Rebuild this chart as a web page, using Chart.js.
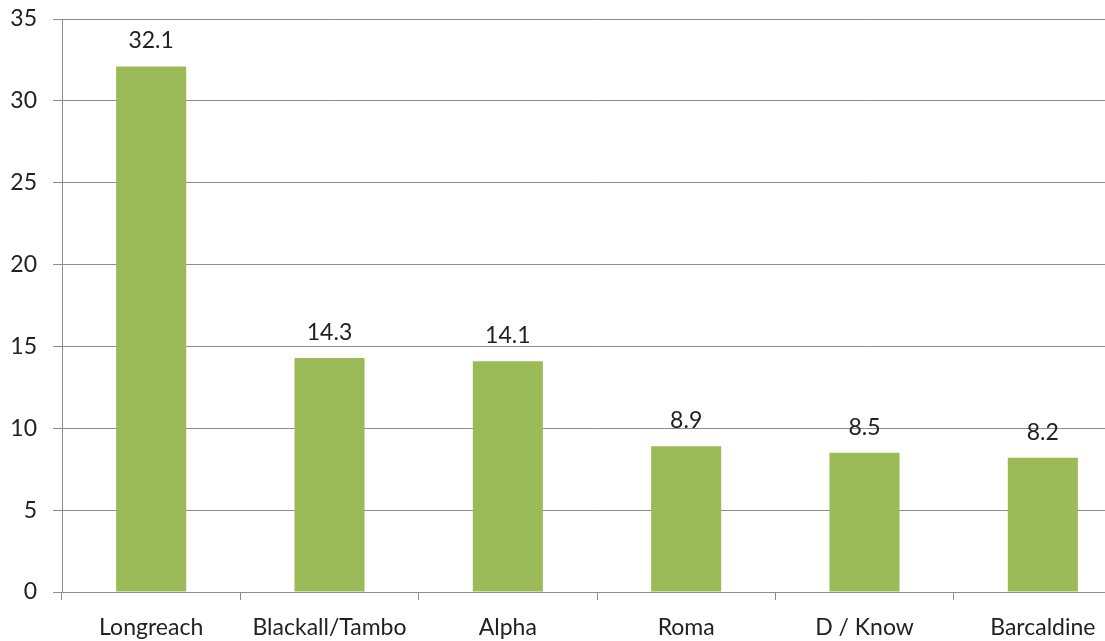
<!DOCTYPE html>
<html>
<head>
<meta charset="utf-8">
<script src="https://cdn.jsdelivr.net/npm/chart.js@4"></script>
<style>
  html, body { margin: 0; padding: 0; background: #fff; overflow: hidden; }
  #wrap { width: 1105px; height: 641px; overflow: hidden; }
</style>
</head>
<body>
<div id="wrap"><canvas id="barChart" width="1132" height="641"></canvas></div>
<script>
var categories = ['Longreach', 'Blackall/Tambo', 'Alpha', 'Roma', 'D / Know', 'Barcaldine'];
var values = [32.1, 14.3, 14.1, 8.9, 8.5, 8.2];
var yTicks = [0, 5, 10, 15, 20, 25, 30, 35];

var fontFamily = 'Lato, "Open Sans", sans-serif';

// value labels above each bar
var barLabels = {
    id: 'barLabels',
    afterDatasetsDraw: function (chart) {
        var ctx = chart.ctx;
        var meta = chart.getDatasetMeta(0);
        ctx.save();
        ctx.font = '23px ' + fontFamily;
        ctx.fillStyle = '#222';
        ctx.textAlign = 'center';
        ctx.textBaseline = 'bottom';
        meta.data.forEach(function (bar, i) {
            ctx.fillText(values[i].toFixed(1), bar.x, bar.y - 14);
        });
        ctx.restore();
    }
};

var ctx = document.getElementById('barChart').getContext('2d');
var myChart = new Chart(ctx, {
    type: 'bar',
    data: {
        labels: categories,
        datasets: [{
            data: values,
            backgroundColor: '#9bbb59',
            borderWidth: 0,
            categoryPercentage: 1.0,
            barPercentage: 0.393
        }]
    },
    options: {
        responsive: false,
        animation: false,
        layout: { padding: { top: 19, right: 0, left: 0, bottom: 0 } },
        plugins: {
            legend: { display: false },
            tooltip: { enabled: false }
        },
        scales: {
            x: {
                grid: {
                    offset: true,
                    drawOnChartArea: false,
                    drawTicks: true,
                    tickLength: 8,
                    color: '#8c8c8c'
                },
                border: { color: '#8c8c8c', width: 1 },
                ticks: {
                    color: '#222',
                    font: { family: fontFamily, size: 23 },
                    padding: 14,
                    maxRotation: 0,
                    autoSkip: false
                },
                afterFit: function (scale) { scale.height = 49; }
            },
            y: {
                min: 0,
                max: 35,
                afterBuildTicks: function (scale) {
                    scale.ticks = yTicks.map(function (v) { return { value: v }; });
                },
                grid: {
                    color: '#8c8c8c',
                    drawTicks: true,
                    tickLength: 9
                },
                border: { color: '#8c8c8c', width: 1 },
                ticks: {
                    color: '#222',
                    font: { family: fontFamily, size: 23 },
                    padding: 16
                },
                afterFit: function (scale) {
                    scale.width = 62;
                    scale.paddingTop = 0;
                    scale.paddingBottom = 0;
                }
            }
        }
    },
    plugins: [barLabels]
});
</script>
</body>
</html>
